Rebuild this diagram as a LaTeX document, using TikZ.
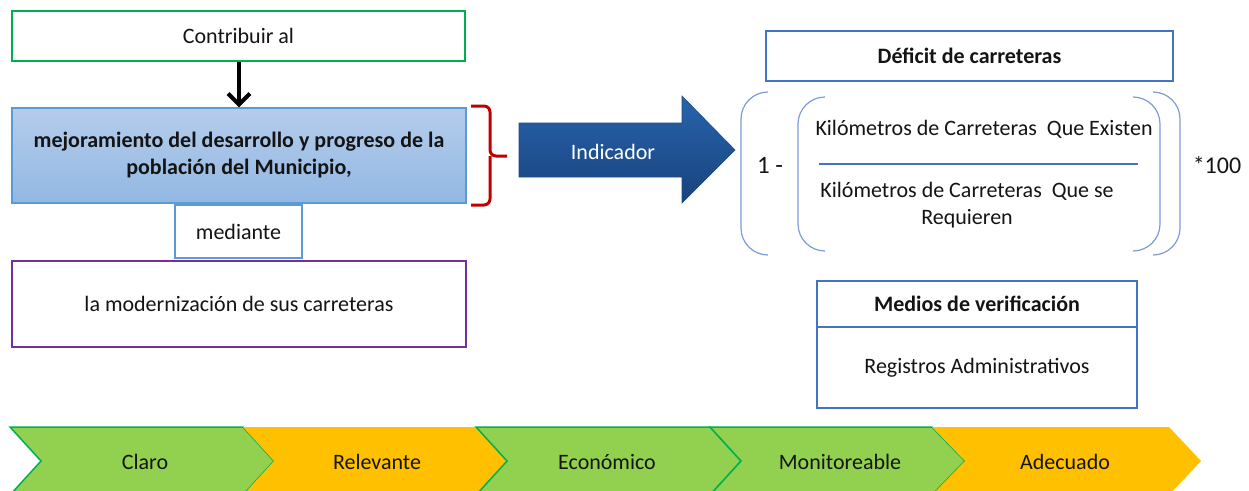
\documentclass[tikz,border=0pt]{standalone}
\usepackage{fontspec}
\setmainfont{Carlito}
\usetikzlibrary{arrows.meta}
\definecolor{gborder}{RGB}{0,176,80}
\definecolor{gfill}{RGB}{146,208,80}
\definecolor{ofill}{RGB}{255,192,0}
\definecolor{bborder}{RGB}{91,155,213}
\definecolor{navy}{RGB}{68,114,196}
\definecolor{paren}{RGB}{125,155,215}
\definecolor{purp}{RGB}{112,48,160}
\definecolor{bred}{RGB}{192,0,0}
\definecolor{txtc}{RGB}{20,20,20}
\begin{document}
\begin{tikzpicture}[x=1pt,y=-1pt,
  every node/.style={font=\fontsize{22}{27}\selectfont, text=txtc, inner sep=0pt, align=center},
  bigtxt/.style={font=\fontsize{25}{30}\selectfont},
  box/.style={draw, line width=1.5pt, fill=white},
  thinbox/.style={draw=navy, line width=1.3pt, fill=white},
  parenline/.style={draw=paren, line width=1.2pt, rounded corners=27pt},
  greenchev/.style={fill=gfill, draw=gborder, line width=1.5pt, line join=miter},
  orangechev/.style={fill=ofill},
  bracestyle/.style={draw=bred, line width=3pt, rounded corners=6pt},
]
\useasboundingbox (0,0) rectangle (1249,490);
\clip (0,0) rectangle (1249,490);

% left column
\node[box, draw=gborder, minimum width=453, minimum height=50] (contrib) at (238.5,36) {Contribuir al};
\node[draw=bborder, line width=1.2pt, top color={rgb,255:red,181;green,204;blue,235}, bottom color={rgb,255:red,146;green,184;blue,227},
      minimum width=454, minimum height=95] (mejor) at (239,155.5)
      {\bfseries mejoramiento del desarrollo y progreso de la\\\bfseries población del Municipio,};
\node[box, draw=bborder, minimum width=127, minimum height=53] (med) at (238.5,231.5) {mediante};
\node[box, draw=purp, minimum width=454, minimum height=86] (moder) at (239,304) {la modernización de sus carreteras};

\draw[line width=4pt, -{Straight Barb[length=11pt,width=22pt]}] (contrib.south -| mejor.north) -- (mejor.north);

% red brace
\coordinate (bt) at (471,106);
\coordinate (bb) at (471,205);
\coordinate (bp) at (507,156);
\draw[bracestyle] (bt) -- (490,106) -- (490,156) -- (bp);
\draw[bracestyle] (bb) -- (490,205) -- (490,156);

% Indicador arrow
\path[top color={rgb,255:red,40;green,100;blue,172}, bottom color={rgb,255:red,24;green,66;blue,124}, draw={rgb,255:red,30;green,75;blue,135}, line width=0.6pt]
  (519,123) -- (682,123) -- (682,96) -- (735,150) -- (682,203) -- (682,177) -- (519,177) -- cycle;
\node[text=white] (ind) at (613,152) {Indicador};

% right side: formula
\node[thinbox, minimum width=407, minimum height=50] (def) at (969.5,56) {\bfseries Déficit de carreteras};

\draw[parenline] (768,92) -- (741,92) -- (741,255) -- (768,255);
\draw[parenline] (825,97) -- (798,97) -- (798,251) -- (825,251);
\draw[parenline] (1134,97) -- (1160,97) -- (1160,251) -- (1134,251);
\draw[parenline] (1153,92) -- (1180,92) -- (1180,255) -- (1153,255);

\node[bigtxt] (one) at (770,165) {1 -};
\node (num) at (984,129) {Kilómetros de Carreteras\ \ Que Existen};
\coordinate (fl) at (819,164);
\coordinate (fr) at (1138,164);
\draw[navy, line width=1.2pt] (fl) -- (fr);
\node (den) at (967,205.5) {Kilómetros de Carreteras\ \ Que se\\Requieren};
\node[font=\fontsize{24}{28}\selectfont] (times) at (1217,165) {*100};

\node[thinbox, minimum width=320, minimum height=46] (medios) at (977,304) {\bfseries Medios de verificación};
\node[thinbox, minimum width=320, minimum height=81] (reg) at (977,367.5) {Registros Administrativos};

% chevrons
\path[greenchev] (10,427) -- (243,427) -- (274,461) -- (243,495) -- (10,495) -- (41,461) -- cycle;
\path[orangechev] (243,427) -- (476,427) -- (507,461) -- (476,495) -- (243,495) -- (274,461) -- cycle;
\path[greenchev] (476,427) -- (710,427) -- (741,461) -- (710,495) -- (476,495) -- (507,461) -- cycle;
\path[greenchev] (710,427) -- (932,427) -- (965,461) -- (932,495) -- (710,495) -- (741,461) -- cycle;
\path[orangechev] (932,427) -- (1169,427) -- (1201,461) -- (1169,495) -- (932,495) -- (965,461) -- cycle;

\node (c1) at (145,462) {Claro};
\node (c2) at (377,462) {Relevante};
\node (c3) at (607,462) {Económico};
\node (c4) at (840,462) {Monitoreable};
\node (c5) at (1065,462) {Adecuado};
\end{tikzpicture}
\end{document}
